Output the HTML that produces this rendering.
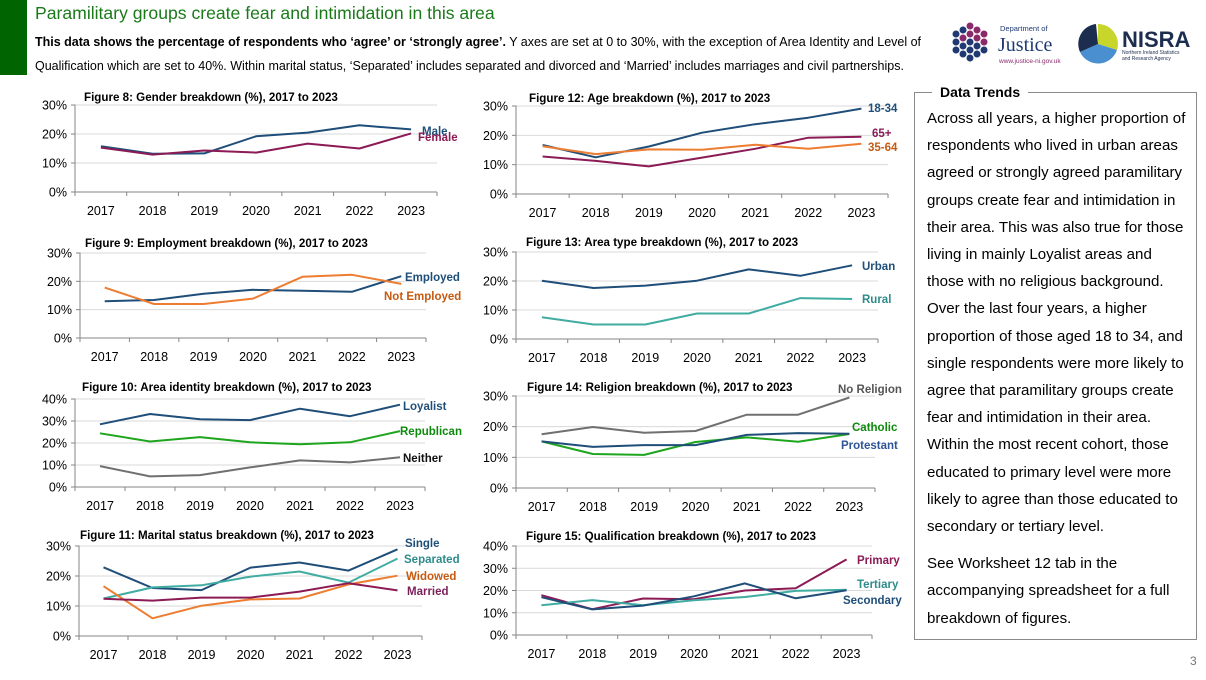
<!DOCTYPE html>
<html><head><meta charset="utf-8">
<style>
body{margin:0;width:1206px;height:680px;background:#fff;position:relative;overflow:hidden;font-family:"Liberation Sans",Arial,sans-serif;}
.abs{position:absolute;}
#panel{left:914px;top:92px;width:283px;height:548px;border:1px solid #8a8a8a;box-sizing:border-box;}
#panel-body{left:927px;top:105px;font-size:15.1px;line-height:27.2px;color:#000;white-space:nowrap;}
</style></head>
<body>
<div class="abs" style="left:0;top:0;width:27px;height:75px;background:#006400"></div>
<div class="abs" style="left:35px;top:3px;font-size:17.6px;color:#1a7a1a;">Paramilitary groups create fear and intimidation in this area</div>
<div class="abs" style="left:35px;top:35px;font-size:12.5px;"><b>This data shows the percentage of respondents who ‘agree’ or ‘strongly agree’.</b> Y axes are set at 0 to 30%, with the exception of Area Identity and Level of</div>
<div class="abs" style="left:35px;top:59px;font-size:12.5px;">Qualification which are set to 40%. Within marital status, ‘Separated’ includes separated and divorced and ‘Married’ includes marriages and civil partnerships.</div>

<svg class="abs" style="left:950px;top:20px" width="120" height="50">
 <g fill="#1f3a73"><circle cx="6" cy="14" r="3.5"/><circle cx="6" cy="22" r="3.5"/><circle cx="6" cy="30" r="3.5"/><circle cx="13" cy="10" r="3.5"/><circle cx="13" cy="34" r="3.5"/><circle cx="20" cy="38" r="3.5"/><circle cx="13" cy="26" r="3.5"/></g>
 <g fill="#8b2a6b"><circle cx="20" cy="6" r="3.5"/><circle cx="27" cy="10" r="3.5"/><circle cx="20" cy="14" r="3.5"/><circle cx="13" cy="18" r="3.5"/><circle cx="27" cy="18" r="3.5"/><circle cx="34" cy="14" r="3.5"/><circle cx="34" cy="22" r="3.5"/></g>
 <g fill="#1f3a73"><circle cx="20" cy="22" r="3.5"/><circle cx="20" cy="30" r="3.5"/><circle cx="27" cy="26" r="3.5"/><circle cx="27" cy="34" r="3.5"/><circle cx="34" cy="30" r="3.5"/></g>
 <text x="50" y="11" font-size="7.5" fill="#1f3a73" font-family="Liberation Sans">Department of</text>
 <text x="48" y="31" font-size="20" fill="#1f3a73" font-family="Liberation Serif">Justice</text>
 <text x="49" y="43" font-size="6.5" fill="#8b2a6b" font-family="Liberation Sans">www.justice-ni.gov.uk</text>
</svg>
<svg class="abs" style="left:1078px;top:22px" width="125" height="45">
 <path d="M20 22 L20 2 A20 20 0 0 1 39 28 Z" fill="#c8d62b"/>
 <path d="M20 22 L39 28 A20 20 0 0 1 2 30 Z" fill="#4a8fd0"/>
 <path d="M20 22 L2 30 A20 20 0 0 1 18 2 Z" fill="#1c2d4f"/>
 <text x="44" y="25" font-size="22" font-weight="bold" fill="#1c2d4f" font-family="Liberation Sans">NISRA</text>
 <text x="44" y="32" font-size="5" fill="#1c2d4f" font-family="Liberation Sans">Northern Ireland Statistics</text>
 <text x="44" y="38" font-size="5" fill="#1c2d4f" font-family="Liberation Sans">and Research Agency</text>
</svg>

<div id="panel" class="abs"></div>
<div class="abs" style="left:932px;top:84px;background:#fff;padding:0 8px;font-size:14px;font-weight:bold;">Data Trends</div>
<div id="panel-body" class="abs">Across all years, a higher proportion of<br>respondents who lived in urban areas<br>agreed or strongly agreed paramilitary<br>groups create fear and intimidation in<br>their area. This was also true for those<br>living in mainly Loyalist areas and<br>those with no religious background.<br>Over the last four years, a higher<br>proportion of those aged 18 to 34, and<br>single respondents were more likely to<br>agree that paramilitary groups create<br>fear and intimidation in their area.<br>Within the most recent cohort, those<br>educated to primary level were more<br>likely to agree than those educated to<br>secondary or tertiary level.<br><div style="height:10px"></div>See Worksheet 12 tab in the<br>accompanying spreadsheet for a full<br>breakdown of figures.</div>
<div class="abs" style="left:1190px;top:654px;font-size:12px;color:#777;">3</div>

<svg id="charts" class="abs" style="left:0;top:0" width="1206" height="680"></svg>

<script>
const years = ["2017","2018","2019","2020","2021","2022","2023"];
const ticks30 = [0,10,20,30];
const ticks40 = [0,10,20,30,40];
const male = [15.8,13.2,13.3,19.2,20.5,23,21.6];
const female = [15.3,12.9,14.3,13.6,16.7,15,20.2];
const employed = [13,13.4,15.6,17,16.7,16.3,21.8];
const notEmployed = [17.8,12,12,13.9,21.6,22.3,19.1];
const loyalist = [28.5,33.2,30.8,30.4,35.6,32.2,37.4];
const republican = [24.4,20.7,22.7,20.3,19.4,20.3,25.4];
const neither = [9.5,4.8,5.4,8.9,12.1,11.2,13.5];
const single = [22.9,16,15.3,22.8,24.5,21.8,28.9];
const separated = [12.5,16.2,16.9,19.8,21.5,17.8,25.8];
const widowed = [16.6,5.9,10.1,12.2,12.5,17.2,20.1];
const married = [12.4,11.8,12.8,12.8,14.8,17.6,15.2];
const age1834 = [16.7,12.5,16.2,20.9,23.8,26,29.1];
const age65 = [12.8,11.3,9.4,12.4,15.4,19.2,19.5];
const age3564 = [16.3,13.6,15.2,15.1,16.8,15.4,17.1];
const urban = [20.1,17.6,18.4,20.1,24,21.8,25.4];
const rural = [7.5,5,5,8.8,8.8,14.1,13.8];
const noReligion = [17.5,19.9,18,18.6,23.9,23.9,29.5];
const catholic = [15.2,11.1,10.8,15,16.5,15.1,17.6];
const protestant = [15.2,13.4,14,14,17.3,17.9,17.7];
const primary = [17.9,11.6,16.4,16.1,20,21,34];
const tertiary = [13.4,15.7,13.4,15.6,17.1,19.8,20.3];
const secondary = [17,11.5,13.2,17.4,23.2,16.5,20.1];

const NAVY="#1f4e79", MAROON="#8b1a55", ORANGE="#ed7d31", GREEN="#1ea51e", GRAY="#707070", TEAL="#40aca2";
const charts = [
 {n:"figure-8-gender",t:"Figure 8: Gender breakdown (%), 2017 to 2023",tx:84,ty:101,x0:75,x1:437,yt:105,yb:192,ticks:ticks30,
  s:[["male",male,NAVY,"Male",422,135,NAVY],["female",female,MAROON,"Female",418,141,MAROON]]},
 {n:"figure-9-employment",t:"Figure 9: Employment breakdown (%), 2017 to 2023",tx:85,ty:247,x0:80,x1:426,yt:253,yb:338,ticks:ticks30,
  s:[["employed",employed,NAVY,"Employed",405,281,NAVY],["not-employed",notEmployed,ORANGE,"Not Employed",384,300,"#c55a11"]]},
 {n:"figure-10-area-identity",t:"Figure 10: Area identity breakdown (%), 2017 to 2023",tx:82,ty:391,x0:75,x1:425,yt:399,yb:487,ticks:ticks40,
  s:[["loyalist",loyalist,NAVY,"Loyalist",403,410,NAVY],["republican",republican,GREEN,"Republican",400,435,"#0e8a0e"],["neither",neither,GRAY,"Neither",403,462,"#111"]]},
 {n:"figure-11-marital-status",t:"Figure 11: Marital status breakdown (%), 2017 to 2023",tx:80,ty:539,x0:79,x1:422,yt:546,yb:636,ticks:ticks30,
  s:[["single",single,NAVY,"Single",405,547,NAVY],["separated",separated,TEAL,"Separated",404,563,"#2e8b8b"],["widowed",widowed,ORANGE,"Widowed",406,580,"#c55a11"],["married",married,MAROON,"Married",407,595,"#7b1f5a"]]},
 {n:"figure-12-age",t:"Figure 12: Age breakdown (%), 2017 to 2023",tx:529,ty:102,x0:516,x1:888,yt:106,yb:194,ticks:ticks30,
  s:[["age-18-34",age1834,NAVY,"18-34",868,112,NAVY],["age-65-plus",age65,MAROON,"65+",872,137,MAROON],["age-35-64",age3564,ORANGE,"35-64",868,151,"#c55a11"]]},
 {n:"figure-13-area-type",t:"Figure 13: Area type breakdown (%), 2017 to 2023",tx:526,ty:246,x0:516,x1:878,yt:252,yb:339,ticks:ticks30,
  s:[["urban",urban,NAVY,"Urban",862,270,NAVY],["rural",rural,TEAL,"Rural",862,303,"#2e8b8b"]]},
 {n:"figure-14-religion",t:"Figure 14: Religion breakdown (%), 2017 to 2023",tx:527,ty:391,x0:516,x1:875,yt:396,yb:488,ticks:ticks30,
  s:[["no-religion",noReligion,GRAY,"No Religion",838,393,"#555"],["catholic",catholic,GREEN,"Catholic",852,431,"#0e8a0e"],["protestant",protestant,NAVY,"Protestant",841,449,"#2f5597"]]},
 {n:"figure-15-qualification",t:"Figure 15: Qualification breakdown (%), 2017 to 2023",tx:526,ty:540,x0:516,x1:872,yt:546,yb:635,ticks:ticks40,
  s:[["primary",primary,MAROON,"Primary",857,564,MAROON],["tertiary",tertiary,TEAL,"Tertiary",857,588,"#2e8b8b"],["secondary",secondary,NAVY,"Secondary",843,604,NAVY]]}
];
const NS="http://www.w3.org/2000/svg";
const root=document.getElementById("charts");
function mk(tag,attrs,parent,txt){const e=document.createElementNS(NS,tag);for(const k in attrs)e.setAttribute(k,attrs[k]);if(txt!==undefined)e.textContent=txt;parent.appendChild(e);return e;}
charts.forEach(c=>{
 const g=mk("g",{},root);
 
 
 const maxV=c.ticks[c.ticks.length-1];
 const bw=(c.x1-c.x0)/years.length;
 const xs=i=>c.x0+bw*(i+0.5);
 const ys=v=>c.yb-(v/maxV)*(c.yb-c.yt);
 const title=mk("text",{x:c.tx,y:c.ty,"font-size":"11.6","font-weight":"bold","font-family":"Liberation Sans"},g,c.t);
 
 
 c.ticks.forEach(t=>{
  const y=ys(t);
  if(t>0){const gl=mk("line",{x1:c.x0,x2:c.x1,y1:y,y2:y,stroke:"#d9d9d9","stroke-width":1},g);
   
   }
  const tl=mk("text",{x:c.x0-8,y:y+4.5,"text-anchor":"end","font-size":"12.5","font-family":"Liberation Sans"},g,t+"%");
  
  
 });
 const ax=mk("path",{d:`M${c.x0-4} ${c.yt}H${c.x0}V${c.yb}H${c.x1}`,stroke:"#868686",fill:"none","stroke-width":1},g);
 
 
 for(let i=0;i<=years.length;i++){const tk=mk("line",{x1:c.x0+bw*i,x2:c.x0+bw*i,y1:c.yb,y2:c.yb+4,stroke:"#868686"},g);
  
  }
 c.ticks.forEach(t=>{const tk=mk("line",{x1:c.x0-4,x2:c.x0,y1:ys(t),y2:ys(t),stroke:"#868686"},g);
  
  });
 years.forEach((yr,i)=>{const xl=mk("text",{x:xs(i),y:c.yb+23,"text-anchor":"middle","font-size":"12.5","font-family":"Liberation Sans"},g,yr);
  
  });
 c.s.forEach(s=>{
  const pts=s[1].map((v,i)=>xs(i).toFixed(1)+","+ys(v).toFixed(1)).join(" ");
  const pl=mk("polyline",{points:pts,fill:"none",stroke:s[2],"stroke-width":2,"stroke-linejoin":"round"},g);
  
  
  const lb=mk("text",{x:s[4],y:s[5],"font-size":"11.5","font-weight":"bold",fill:s[6],"font-family":"Liberation Sans"},g,s[3]);
  
  
 });
});
</script>
</body></html>
